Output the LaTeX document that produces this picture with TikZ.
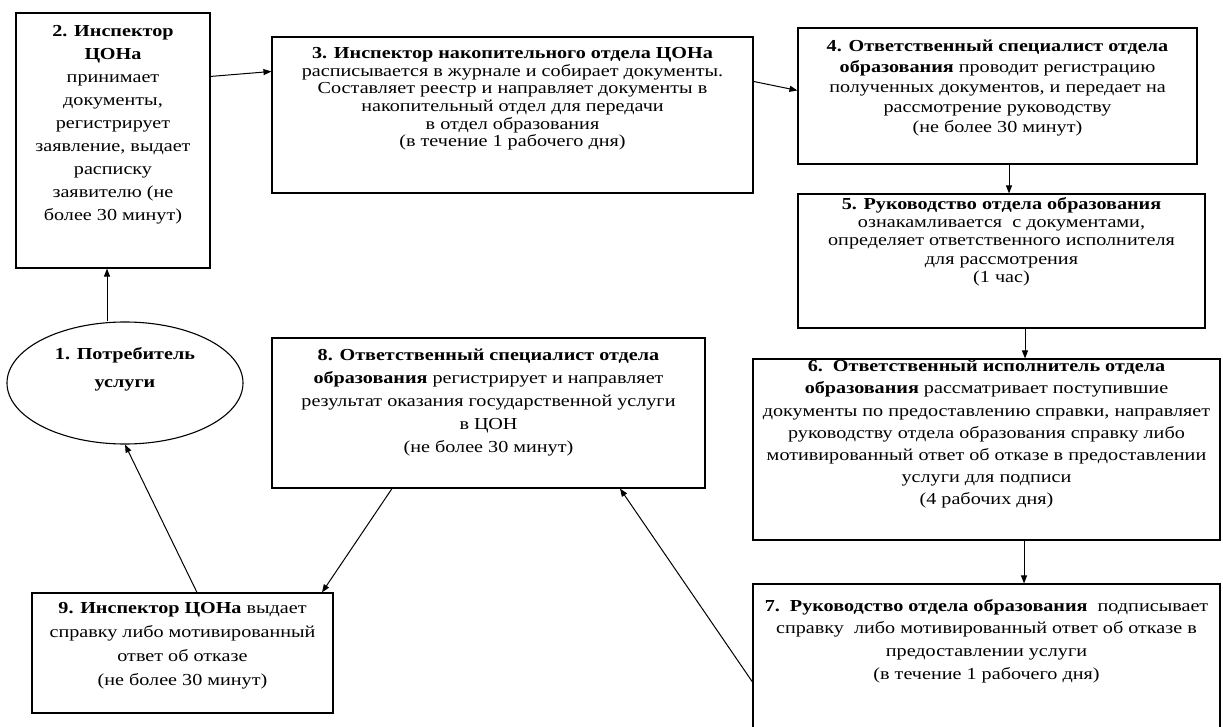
\documentclass[tikz,border=0pt]{standalone}
\usepackage{fontspec}
\setmainfont[FakeStretch=1.2]{Liberation Serif}
\usetikzlibrary{arrows.meta,shapes.geometric,calc}
\begin{document}
\begin{tikzpicture}[x=1pt,y=-1pt,
  box/.style={draw=black,line width=1.1pt,rectangle,inner sep=0pt,fill=white},
  txt/.style={align=center,inner sep=0pt,anchor=north,font=\fontsize{16.8}{#1}\selectfont},
  txt/.default=22,
  arr/.style={draw=black,line width=1pt,-{Triangle[length=8pt,width=6pt]}}]
\useasboundingbox (0,0) rectangle (1223,727);
% boxes
\node[box,minimum width=194pt,minimum height=255pt] (b2) at (113,140.5) {};
\node[box,minimum width=481pt,minimum height=156pt] (b3) at (512.5,115) {};
\node[box,minimum width=399pt,minimum height=136pt] (b4) at (997.5,96) {};
\node[box,minimum width=407pt,minimum height=134pt] (b5) at (1001.5,261) {};
\node[box,minimum width=467pt,minimum height=181pt] (b6) at (986.5,449.5) {};
\node[box,minimum width=467pt,minimum height=160pt] (b7) at (986.5,664) {};
\node[box,minimum width=433pt,minimum height=150pt] (b8) at (488.5,413) {};
\node[box,minimum width=301pt,minimum height=120pt] (b9) at (182.5,653) {};
\node[box,ellipse,minimum width=236pt,minimum height=122pt] (e1) at (125,383) {};
% texts
\node[txt=23] (t2) at (113,25) {\textbf{2. Инспектор}\\ \textbf{ЦОНа}\\ принимает\\ документы,\\ регистрирует\\ заявление, выдает\\ расписку\\ заявителю (не\\ более 30 минут)};
\node[txt=17.7] (t3) at (512.5,47) {\textbf{3. Инспектор накопительного отдела ЦОНа}\\ расписывается в журнале и собирает документы.\\ Составляет реестр и направляет документы в\\ накопительный отдел для передачи\\ в отдел образования\\ (в течение 1 рабочего дня)};
\node[txt=20.3] (t4) at (997.5,40) {\textbf{4. Ответственный специалист отдела}\\ \textbf{образования} проводит регистрацию\\ полученных документов, и передает на\\ рассмотрение руководству\\ (не более 30 минут)};
\node[txt=18.3] (t5) at (1001.5,197) {\textbf{5. Руководство отдела образования}\\ ознакамливается\ \ с документами,\\ определяет ответственного исполнителя\\ для рассмотрения\\ (1 час)};
\node[txt=22.2] (t6) at (986.5,360) {\textbf{6.\ \ Ответственный исполнитель отдела}\\ \textbf{образования} рассматривает поступившие\\ документы по предоставлению справки, направляет\\ руководству отдела образования справку либо\\ мотивированный ответ об отказе в предоставлении\\ услуги для подписи\\ (4 рабочих дня)};
\node[txt=22.7] (t7) at (986.5,599) {\textbf{7.\ \ Руководство отдела образования}\ \ подписывает\\ справку\ \ либо мотивированный ответ об отказе в\\ предоставлении услуги\\ (в течение 1 рабочего дня)};
\node[txt=23] (t8) at (488.5,349) {\textbf{8. Ответственный специалист отдела}\\ \textbf{образования} регистрирует и направляет\\ результат оказания государственной услуги\\ в ЦОН\\ (не более 30 минут)};
\node[txt=24] (t9) at (182.5,602) {\textbf{9. Инспектор ЦОНа} выдает\\ справку либо мотивированный\\ ответ об отказе\\ (не более 30 минут)};
\node[txt=28] (t1) at (125,347) {\textbf{1. Потребитель}\\ \textbf{услуги}};
% connectors
\draw[arr] ([yshift=-64pt]b2.north east) -- ([yshift=-35pt]b3.north west);
\draw[arr] ([yshift=-45pt]b3.north east) -- ([yshift=-63pt]b4.north west);
\draw[arr] ([xshift=11.5pt]b4.south) -- ([xshift=7.5pt]b5.north);
\draw[arr] ([xshift=23.5pt]b5.south) -- ([xshift=38.5pt]b6.north);
\draw[arr] ([xshift=37.5pt]b6.south) -- ([xshift=37.5pt]b7.north);
\draw[arr] ([yshift=-18pt]b7.west) -- ([xshift=131.5pt]b8.south);
\draw[arr] ([xshift=-96.5pt]b8.south) -- ([xshift=139.5pt]b9.north);
\draw[arr] ([xshift=14.5pt]b9.north) -- (e1.south);
\draw[arr] ([xshift=-6pt]b2.south |- e1.north) -- ([xshift=-6pt]b2.south);
\end{tikzpicture}
\end{document}
